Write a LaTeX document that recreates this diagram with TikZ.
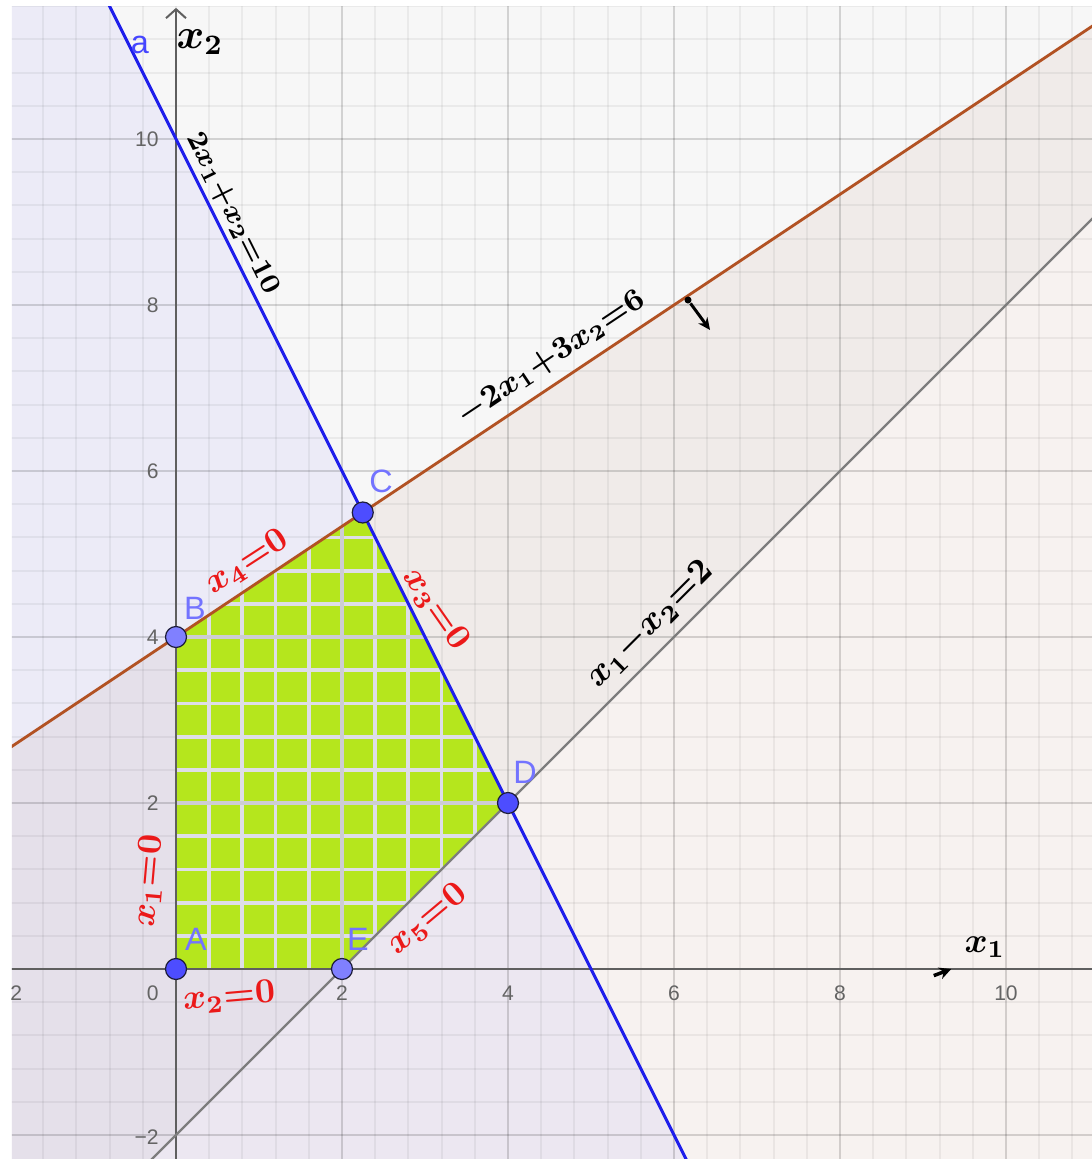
\documentclass[tikz,border=0pt]{standalone}
\usepackage{fontspec}
\setsansfont{Liberation Sans}
\usetikzlibrary{arrows.meta}
\definecolor{axiscol}{RGB}{95,95,95}
\definecolor{bluefill}{RGB}{110,105,255}
\definecolor{brownfill}{RGB}{185,135,115}
\definecolor{greenfill}{RGB}{181,230,29}
\definecolor{greengridminor}{RGB}{222,222,230}
\definecolor{greengridmajor}{RGB}{205,205,212}
\definecolor{blueline}{RGB}{30,30,235}
\definecolor{brownline}{RGB}{178,82,35}
\definecolor{grayline}{RGB}{125,125,125}
\definecolor{ptdark}{RGB}{77,77,255}
\definecolor{ptlight}{RGB}{128,128,255}
\definecolor{ptlabel}{RGB}{115,115,255}
\definecolor{ticklab}{RGB}{100,100,100}
\definecolor{hand}{RGB}{235,25,25}
\tikzset{
  minorline/.style={draw=black, draw opacity=0.05, line width=0.02cm},
  majorline/.style={draw=black, draw opacity=0.1, line width=0.025cm},
  gminorline/.style={draw=greengridminor, line width=0.038cm},
  gmajorline/.style={draw=greengridmajor, line width=0.038cm},
  axisline/.style={draw=axiscol, line width=0.02cm},
  pt/.style={circle, draw={rgb,255:red,30;green,30;blue,60}, line width=0.012cm, minimum size=0.21cm, inner sep=0pt},
  ptlab/.style={text=ptlabel, font=\sffamily\fontsize{9.2}{10}\selectfont, inner sep=0pt},
  ticklabel/.style={text=ticklab, font=\sffamily\fontsize{6}{7}\selectfont, inner sep=0pt},
  handblack/.style={text=black, font=\boldmath\fontsize{10}{11}\selectfont, inner sep=0pt},
  handred/.style={text=hand, font=\boldmath\fontsize{10}{11}\selectfont, inner sep=0pt}
}
\begin{document}
\begin{tikzpicture}[x=0.83cm,y=0.83cm]
\useasboundingbox (-2.1205,-2.2892) rectangle (11.0361,11.6747);
\fill[white] (-2.1205,-2.2892) rectangle (11.0361,11.6747);
\begin{scope}
\clip (-1.9759,-2.2892) rectangle (11.0361,11.6024);
% half-plane shadings
\fill[black, opacity=0.03] (-3,-5) -- (14,12) -- (-3,12) -- cycle;
\fill[brownfill, opacity=0.1] (-3,2) -- (12,12) -- (12,-3) -- (-3,-3) -- cycle;
\fill[bluefill, opacity=0.08] (-3,16) -- (7,-4) -- (-3,-4) -- cycle;
% grid
\foreach \i in {-5,...,28} { \draw[minorline] (\i*0.4,-2.4) -- (\i*0.4,11.8); }
\foreach \i in {-6,...,29} { \draw[minorline] (-2.1,\i*0.4) -- (11.1,\i*0.4); }
\foreach \v in {-2,2,4,6,8,10} { \draw[majorline] (\v,-2.4) -- (\v,11.8); }
\foreach \v in {-2,2,4,6,8,10} { \draw[majorline] (-2.1,\v) -- (11.1,\v); }
% feasible region with its grid
\fill[greenfill] (0,0) -- (2,0) -- (4,2) -- (2.25,5.5) -- (0,4) -- cycle;
\begin{scope}
\clip (0,0) -- (2,0) -- (4,2) -- (2.25,5.5) -- (0,4) -- cycle;
\foreach \i in {1,...,10} { \draw[gminorline] (\i*0.4,-0.1) -- (\i*0.4,5.6); }
\foreach \i in {1,...,14} { \draw[gminorline] (-0.1,\i*0.4) -- (4.1,\i*0.4); }
\foreach \v in {2,4} { \draw[gmajorline] (\v,-0.1) -- (\v,5.6); \draw[gmajorline] (-0.1,\v) -- (4.1,\v); }
\end{scope}
% axes
\coordinate (xl) at (-2.1,0);
\coordinate (xr) at (11.1,0);
\coordinate (yb) at (0,-2.4);
\coordinate (yt) at (0,11.58);
\draw[axisline] (xl) -- (xr);
\draw[axisline, -{Straight Barb[length=0.09cm, width=0.2cm]}] (yb) -- (yt);
% tick labels
\foreach \v in {2,4,6,8,10} { \node[ticklabel] (tx\v) at (\v,-0.29) {\v}; }
\node[ticklabel] (txm2) at (-2,-0.29) {−2};
\node[ticklabel, anchor=east] (t0) at (-0.2,-0.29) {0};
\foreach \v in {2,4,6,8,10} { \node[ticklabel, anchor=east] (ty\v) at (-0.2,\v) {\v}; }
\node[ticklabel, anchor=east] (tym2) at (-0.2,-2.02) {−2};
% constraint lines
\coordinate (bl1) at (-3,16);
\coordinate (bl2) at (7,-4);
\coordinate (br1) at (-3,2);
\coordinate (br2) at (12,12);
\coordinate (gr1) at (-3,-5);
\coordinate (gr2) at (14,12);
\draw[grayline, line width=0.022cm] (gr1) -- (gr2);
\draw[brownline, line width=0.028cm] (br1) -- (br2);
\draw[blueline, line width=0.03cm] (bl1) -- (bl2);
\end{scope}
% line label
\node[ptlab, text={rgb,255:red,70;green,70;blue,255}] (la) at (-0.434,11.133) {a};
% points
\node[pt, fill=ptdark] (A) at (0,0) {};
\node[pt, fill=ptlight] (B) at (0,4) {};
\node[pt, fill=ptdark] (C) at (2.25,5.5) {};
\node[pt, fill=ptdark] (D) at (4,2) {};
\node[pt, fill=ptlight] (E) at (2,0) {};
\node[ptlab] (lA) at (0.241,0.361) {A};
\node[ptlab] (lB) at (0.229,4.349) {B};
\node[ptlab] (lC) at (2.470,5.880) {C};
\node[ptlab] (lD) at (4.205,2.373) {D};
\node[ptlab] (lE) at (2.193,0.361) {E};
% handwritten black annotations
\node[handblack, font=\boldmath\fontsize{12}{13}\selectfont] (hx2) at (0.289,11.169) {$x_2$};
\node[handblack, font=\boldmath\fontsize{8.5}{9}\selectfont, rotate=-63.4] (hblue) at (0.68,9.10) {$2x_1{+}x_2{=}10$};
\node[handblack, font=\boldmath\fontsize{9}{10}\selectfont, rotate=33.7] (hbrown) at (4.52,7.36) {$-2x_1{+}3x_2{=}6$};
\node[handblack, rotate=45] (hgray) at (5.72,4.15) {$x_1{-}x_2{=}2$};
\node[handblack] (hx1) at (9.747,0.265) {$x_1$};
\node[circle, fill=black, minimum size=0.07cm, inner sep=0pt] (hd) at (6.169,8.060) {};
\coordinate (ht) at (6.434,7.699);
\draw[line width=0.03cm, -{Stealth[length=0.12cm, width=0.11cm]}] (hd) -- (ht);
\coordinate (m1) at (9.13,-0.08);
\coordinate (m2) at (9.34,0.0);
\draw[line width=0.035cm, -{Stealth[length=0.12cm, width=0.12cm]}] (m1) -- (m2);
% handwritten red annotations
\node[handred, rotate=33] (r4) at (0.86,4.90) {$x_4{=}0$};
\node[handred, rotate=-55] (r3) at (3.13,4.33) {$x_3{=}0$};
\node[handred, rotate=85] (r1) at (-0.325,1.060) {$x_1{=}0$};
\node[handred, rotate=5] (r2) at (0.64,-0.34) {$x_2{=}0$};
\node[handred, rotate=40] (r5) at (3.03,0.60) {$x_5{=}0$};
\end{tikzpicture}
\end{document}
